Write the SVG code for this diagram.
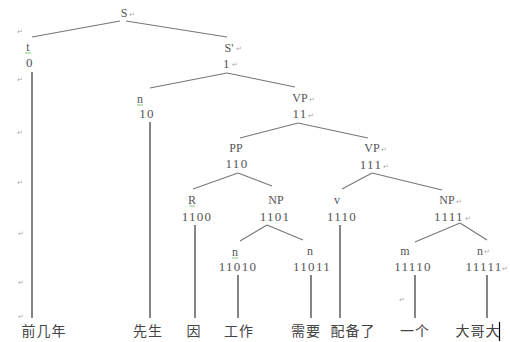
<svg xmlns="http://www.w3.org/2000/svg" width="510" height="342" viewBox="0 0 510 342">
<style>
.lbl{font-family:"Liberation Serif","DejaVu Serif",serif;font-size:12px;fill:#555;text-anchor:middle}
.code{font-family:"Liberation Serif","DejaVu Serif",serif;font-size:13px;fill:#555;text-anchor:middle;letter-spacing:1.3px}
.word{font-family:"Noto Sans CJK SC","Noto Sans CJK JP",sans-serif;font-size:14px;fill:#444;text-anchor:middle;letter-spacing:1px}
.ret{font-family:"DejaVu Sans",sans-serif;font-size:7px;fill:#aaa}
.edge{stroke:#777;stroke-width:1.1;fill:none}
.stem{stroke:#666;stroke-width:1.6;fill:none}
.sq{stroke:#6b6;stroke-width:0.8}
</style>
<rect width="510" height="342" fill="#fff"/>
<g id="connectors">
<line class="edge" x1="120" y1="21" x2="32" y2="37"/>
<line class="edge" x1="126" y1="21" x2="227" y2="37"/>
<line class="edge" x1="227" y1="73" x2="150" y2="88"/>
<line class="edge" x1="227" y1="73" x2="295" y2="87"/>
<line class="edge" x1="298" y1="123" x2="240" y2="138"/>
<line class="edge" x1="298" y1="123" x2="368" y2="138"/>
<line class="edge" x1="238" y1="173" x2="193" y2="189"/>
<line class="edge" x1="238" y1="173" x2="272" y2="186"/>
<line class="edge" x1="372" y1="173" x2="342" y2="189"/>
<line class="edge" x1="372" y1="173" x2="442" y2="190"/>
<line class="edge" x1="267" y1="225" x2="240" y2="241"/>
<line class="edge" x1="267" y1="225" x2="303" y2="240"/>
<line class="edge" x1="460" y1="223" x2="415" y2="242"/>
<line class="edge" x1="460" y1="223" x2="487" y2="240"/>
<line class="stem" x1="32" y1="72" x2="32" y2="318"/>
<line class="stem" x1="150" y1="122" x2="150" y2="318"/>
<line class="stem" x1="195" y1="225" x2="195" y2="318"/>
<line class="stem" x1="238" y1="275" x2="238" y2="318"/>
<line class="stem" x1="311" y1="275" x2="311" y2="318"/>
<line class="stem" x1="340" y1="225" x2="340" y2="318"/>
<line class="stem" x1="415" y1="275" x2="415" y2="318"/>
<line class="stem" x1="487" y1="275" x2="487" y2="318"/>
</g>
<g id="n-S"><text class="lbl" x="124" y="17">S</text><text class="ret" x="129" y="17">↵</text></g>
<g id="n-0"><text class="lbl" x="28" y="51">t</text><line class="sq" x1="25" y1="53" x2="31" y2="53"/><text class="code" x="30" y="67">0</text></g>
<g id="n-1"><text class="lbl" x="229" y="52">S'</text><text class="ret" x="236" y="51">↵</text><text class="code" x="227" y="68">1</text><text class="ret" x="232" y="67">↵</text></g>
<g id="n-10"><text class="lbl" x="140" y="103">n</text><line class="sq" x1="137" y1="105" x2="143" y2="105"/><text class="code" x="147" y="118">10</text></g>
<g id="n-11"><text class="lbl" x="300" y="102">VP</text><text class="ret" x="309" y="102">↵</text><text class="code" x="300" y="118">11</text><text class="ret" x="308" y="118">↵</text></g>
<g id="n-110"><text class="lbl" x="236" y="152">PP</text><text class="code" x="237" y="168">110</text></g>
<g id="n-111"><text class="lbl" x="372" y="152">VP</text><text class="ret" x="381" y="152">↵</text><text class="code" x="371" y="169">111</text><text class="ret" x="383" y="169">↵</text></g>
<g id="n-1100"><text class="lbl" x="192" y="204">R</text><line class="sq" x1="189" y1="206" x2="195" y2="206"/><text class="code" x="197" y="221">1100</text></g>
<g id="n-1101"><text class="lbl" x="276" y="204">NP</text><text class="code" x="275" y="221">1101</text></g>
<g id="n-1110"><text class="lbl" x="337" y="204">v</text><text class="code" x="342" y="221">1110</text></g>
<g id="n-1111"><text class="lbl" x="447" y="204">NP</text><text class="ret" x="456" y="204">↵</text><text class="code" x="449" y="221">1111</text><text class="ret" x="465" y="221">↵</text></g>
<g id="n-11010"><text class="lbl" x="235" y="256">n</text><line class="sq" x1="232" y1="258" x2="238" y2="258"/><text class="code" x="238" y="271">11010</text></g>
<g id="n-11011"><text class="lbl" x="310" y="255">n</text><text class="code" x="312" y="271">11011</text></g>
<g id="n-11110"><text class="lbl" x="405" y="255">m</text><text class="code" x="413" y="271">11110</text></g>
<g id="n-11111"><text class="lbl" x="480" y="255">n</text><text class="ret" x="484" y="254">↵</text><text class="code" x="484" y="271">11111</text><text class="ret" x="502" y="271">↵</text></g>
<g id="marks">
<text class="ret" x="17" y="34">↵</text>
<text class="ret" x="17" y="82">↵</text>
<text class="ret" x="17" y="135">↵</text>
<text class="ret" x="17" y="185">↵</text>
<text class="ret" x="18" y="236">↵</text>
<text class="ret" x="18" y="285">↵</text>
<text class="ret" x="18" y="319">↵</text>
<text class="ret" x="399" y="302">↵</text>
</g>
<g id="words">
<text class="word" x="44" y="336">前几年</text>
<text class="word" x="148" y="336">先生</text>
<text class="word" x="194" y="336">因</text>
<text class="word" x="239" y="336">工作</text>
<text class="word" x="306" y="336">需要</text>
<text class="word" x="353" y="336">配备了</text>
<text class="word" x="415" y="336">一个</text>
<text class="word" x="478" y="336">大哥大</text>
<line x1="499.5" y1="322" x2="499.5" y2="341" stroke="#000" stroke-width="1.2"/>
</g>
</svg>
